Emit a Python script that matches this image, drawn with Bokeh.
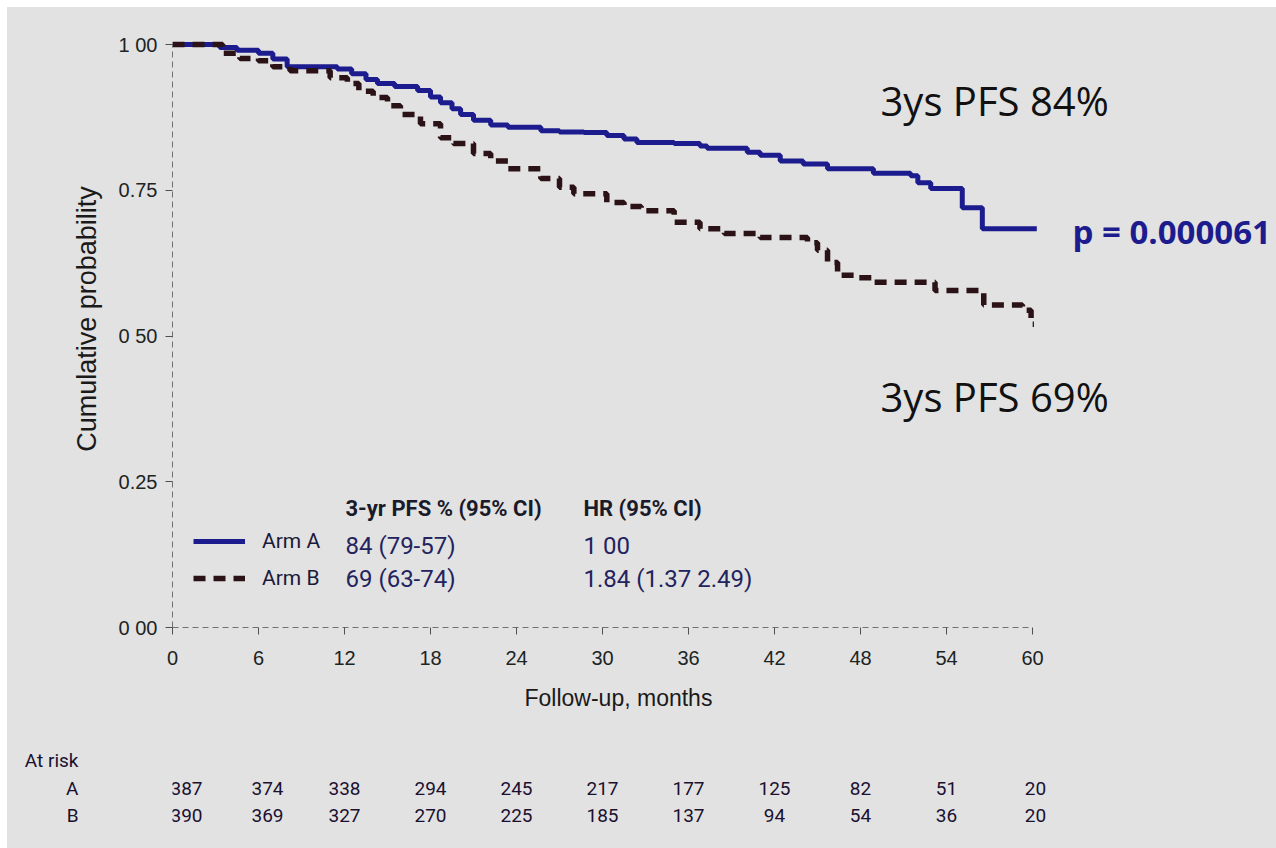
from bokeh.plotting import figure
from bokeh.models import Range1d, FixedTicker, Label, Legend, LegendItem, ColumnDataSource, Title
from bokeh.layouts import column
from bokeh.core.properties import value
from bokeh.embed import file_html
from bokeh.resources import INLINE

# ---------------- data ----------------
arm_a_time = [0, 3.3, 4.5, 6.0, 7.0, 8.0, 11.5, 12.5, 13.5, 14.3, 15.5, 17.1, 18.0, 18.7, 19.5,
              20.1, 21.0, 22.2, 23.4, 25.7, 27.0, 28.7, 30.3, 31.5, 32.4, 35.0, 36.8, 37.3, 40.1,
              41.0, 42.4, 44.0, 45.7, 48.9, 51.5, 52.0, 52.9, 55.1, 56.5, 60.3]
arm_a_surv = [1.0, 0.995, 0.99, 0.985, 0.975, 0.962, 0.958, 0.95, 0.94, 0.933, 0.928, 0.921, 0.91,
              0.90, 0.89, 0.88, 0.87, 0.862, 0.858, 0.852, 0.85, 0.849, 0.844, 0.838, 0.832, 0.83,
              0.826, 0.822, 0.815, 0.81, 0.80, 0.795, 0.787, 0.779, 0.775, 0.763, 0.753, 0.72,
              0.684, 0.684]

arm_b_time = [0, 3.5, 4.7, 6.0, 7.0, 8.2, 11.0, 12.2, 13.0, 14.0, 15.0, 15.9, 17.3, 18.7, 19.6,
              21.0, 22.2, 23.4, 25.7, 27.0, 28.0, 30.3, 31.5, 32.7, 35.0, 36.8, 38.5, 41.0, 44.3,
              45.0, 45.7, 46.4, 47.8, 48.9, 53.2, 56.6, 59.3, 59.9, 60.1]
arm_b_surv = [1.0, 0.985, 0.976, 0.972, 0.962, 0.955, 0.943, 0.933, 0.92, 0.909, 0.895, 0.88,
              0.864, 0.84, 0.83, 0.813, 0.80, 0.787, 0.77, 0.755, 0.744, 0.729, 0.722, 0.715,
              0.695, 0.684, 0.676, 0.669, 0.66, 0.647, 0.626, 0.604, 0.60, 0.592, 0.578, 0.553,
              0.544, 0.52, 0.52]

month_ticks = [0, 6, 12, 18, 24, 30, 36, 42, 48, 54, 60]
prob_ticks = [0, 0.25, 0.5, 0.75, 1.0]
prob_labels = ["0 00", "0.25", "0 50", "0.75", "1 00"]

at_risk_a = [387, 374, 338, 294, 245, 217, 177, 125, 82, 51, 20]
at_risk_b = [390, 369, 327, 270, 225, 185, 137, 94, 54, 36, 20]
risk_row_labels = ["At risk", "A", "B"]

arm_names = ["Arm A", "Arm B"]
pfs_ci = ["84 (79-57)", "69 (63-74)"]
hr_ci = ["1 00", "1.84 (1.37 2.49)"]

# ---------------- style ----------------
BG = "#e2e2e2"
BLUE = "#1c1c8e"
DARK_RED = "#2a1216"
TXT = "#1c2424"
NAVY_TXT = "#23235e"
COND = "Roboto"
PX_PER_MONTH = (1032 - 172) / 60.0
FRAME_W = 1269 - 165
X_END = FRAME_W / PX_PER_MONTH
risk_nudge = [14, 9, 0, 0, 0, 0, 0, 0, 0, 0, 3]
ROW_LEVELS = [88, 60, 33]   # screen rows of the at-risk table (from bottom of panel)
P_H = 718
BOTTOM = 98

p = figure(width=1269, height=P_H, output_backend="svg", toolbar_location=None,
           x_range=Range1d(0, X_END), y_range=Range1d(0, 617 / 583.0),
           min_border_left=165, min_border_right=0, min_border_top=3,
           min_border_bottom=BOTTOM,
           background_fill_color=None, border_fill_color=BG, outline_line_color=None)
p.grid.visible = False

rA = p.step(arm_a_time, arm_a_surv, mode="after", line_color=BLUE, line_width=5)
rB = p.step(arm_b_time, arm_b_surv, mode="after", line_color=DARK_RED, line_width=5.5,
            line_dash="12 8")

# axes
p.xaxis.ticker = FixedTicker(ticks=month_ticks)
p.xaxis.bounds = (0, 60)
p.yaxis.ticker = FixedTicker(ticks=prob_ticks)
p.yaxis.bounds = (0, 1)
p.yaxis.major_label_overrides = {t: l for t, l in zip(prob_ticks, prob_labels)}
p.yaxis.axis_label = "Cumulative probability"
for ax in (p.xaxis, p.yaxis):
    ax.axis_line_color = "#707070"
    ax.axis_line_dash = "6 4"
    ax.axis_line_width = 1
    ax.major_tick_line_color = "#505050"
    ax.major_tick_in = 0
    ax.major_tick_out = 7
    ax.minor_tick_line_color = None
    ax.major_label_text_font = "Liberation Sans"
    ax.major_label_text_font_size = "20px"
    ax.major_label_text_color = TXT
    ax.axis_label_text_font = "Liberation Sans"
    ax.axis_label_text_font_style = "normal"
    ax.axis_label_text_font_size = "27px"
    ax.axis_label_text_color = "#1a1a1a"
p.xaxis.major_label_standoff = 16
p.yaxis.major_label_standoff = 8
p.yaxis.axis_label_standoff = 14

# x-axis title, centred on the 0-60 month span
p.add_layout(Title(text="Follow-up, months", align="left", offset=352, standoff=30,
                   text_font="Liberation Sans", text_font_style="normal",
                   text_font_size="23px", text_color="#1a1a1a"), "below")

# legend (curve samples + arm names)
legend = Legend(items=[LegendItem(label=arm_names[0], renderers=[rA]),
                       LegendItem(label=arm_names[1], renderers=[rB])],
                location=(21, 37), orientation="vertical",
                background_fill_alpha=0, border_line_alpha=0, padding=0, margin=0,
                spacing=13, glyph_width=52, glyph_height=20, label_height=20,
                label_standoff=17, label_text_font=COND, label_text_font_size="21px",
                label_text_color="#1a1a3a")
p.add_layout(legend)

def ylev(px):
    return (627 - px) / 583.0

def xlev(px):
    return (px - 172) / PX_PER_MONTH

col_pfs = xlev(345)
col_hr = xlev(583)
for txt, xx in (("3-yr PFS % (95% CI)", col_pfs), ("HR (95% CI)", col_hr)):
    p.add_layout(Label(x=xx, y=ylev(508), text=txt, text_font=COND, text_font_style="bold",
                       text_font_size="22px", text_color="#1a1a2a", text_baseline="middle"))
for i, yy in enumerate((ylev(545), ylev(578))):
    p.add_layout(Label(x=col_pfs, y=yy, text=pfs_ci[i], text_font=COND, text_font_size="24px",
                       text_color=NAVY_TXT, text_baseline="middle"))
    p.add_layout(Label(x=col_hr, y=yy, text=hr_ci[i], text_font=COND, text_font_size="24px",
                       text_color=NAVY_TXT, text_baseline="middle"))

# annotations
p.add_layout(Label(x=xlev(880), y=ylev(100), text="3ys PFS 84%", text_font="Open Sans",
                   text_font_size="40px", text_color="#111111", text_baseline="middle"))
p.add_layout(Label(x=xlev(880), y=ylev(396), text="3ys PFS 69%", text_font="Open Sans",
                   text_font_size="40px", text_color="#111111", text_baseline="middle"))
p.add_layout(Label(x=xlev(1072), y=ylev(231), text="p = 0.000061", text_font="Open Sans",
                   text_font_style="bold", text_font_size="33px", text_color=BLUE,
                   text_baseline="middle"))

# ---------------- at-risk table ----------------
P2_H = 841 - P_H
p2 = figure(width=1269, height=P2_H, output_backend="svg", toolbar_location=None,
            x_range=Range1d(0, X_END), y_range=Range1d(0, P2_H),
            min_border_left=165, min_border_right=0,
            min_border_top=0, min_border_bottom=0,
            background_fill_color=None, border_fill_color=BG, outline_line_color=None,
            x_axis_type=None)
p2.grid.visible = False
p2.yaxis.ticker = FixedTicker(ticks=ROW_LEVELS)
p2.yaxis.major_label_overrides = {lv: lb for lv, lb in zip(ROW_LEVELS, risk_row_labels)}
p2.yaxis.axis_line_color = None
p2.yaxis.major_tick_line_color = None
p2.yaxis.minor_tick_line_color = None
p2.yaxis.major_label_standoff = 88
p2.yaxis.major_label_text_font = COND
p2.yaxis.major_label_text_font_size = "19px"
p2.yaxis.major_label_text_color = "#1a1030"

src = ColumnDataSource(dict(m=month_ticks, a=[str(v) for v in at_risk_a],
                            b=[str(v) for v in at_risk_b], dx=risk_nudge))
p2.text(x="m", y=ROW_LEVELS[1], text="a", source=src, text_align="center",
        text_baseline="middle", text_font=value(COND), text_font_size="19px",
        text_color="#1a1030", x_offset="dx")
p2.text(x="m", y=ROW_LEVELS[2], text="b", source=src, text_align="center",
        text_baseline="middle", text_font=value(COND), text_font_size="19px",
        text_color="#1a1030", x_offset="dx")

layout = column(p, p2, margin=(7, 0, 0, 7), spacing=0, styles={"background-color": BG})

open("out.html", "w").write(file_html(layout, INLINE))
